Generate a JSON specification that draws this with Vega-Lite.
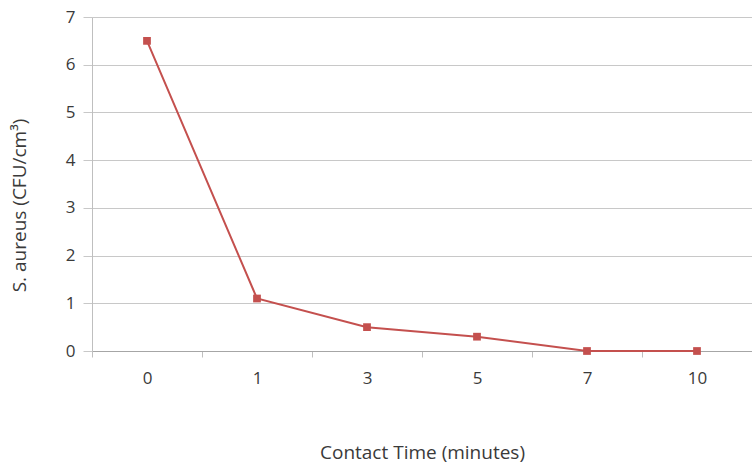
{
  "$schema": "https://vega.github.io/schema/vega-lite/v6.json",
  "width": 660,
  "height": 334,
  "autosize": {"type": "none"},
  "padding": {"left": 92, "top": 17, "right": 0, "bottom": 113},
  "background": "white",
  "data": {
    "values": [
      {"time": "0", "cfu": 6.5},
      {"time": "1", "cfu": 1.1},
      {"time": "3", "cfu": 0.5},
      {"time": "5", "cfu": 0.3},
      {"time": "7", "cfu": 0.0},
      {"time": "10", "cfu": 0.0}
    ]
  },
  "mark": {
    "type": "line",
    "color": "#c4504e",
    "strokeWidth": 2,
    "point": {"shape": "square", "size": 60, "filled": true, "color": "#c4504e", "opacity": 1}
  },
  "encoding": {
    "x": {
      "field": "time",
      "type": "ordinal",
      "sort": null,
      "scale": {"type": "band", "paddingInner": 0, "paddingOuter": 0},
      "axis": {
        "title": "Contact Time (minutes)",
        "labelAngle": 0,
        "tickBand": "extent",
        "grid": false,
        "ticks": true,
        "tickSize": 6,
        "tickColor": "#bfbfbf",
        "domainColor": "#a6a6a6",
        "labelPadding": 13,
        "titleY": 101,
        "titleBaseline": "middle",
        "labelFontSize": 17,
        "titleFontSize": 19
      }
    },
    "y": {
      "field": "cfu",
      "type": "quantitative",
      "scale": {"domain": [0, 7]},
      "axis": {
        "title": "S. aureus (CFU/cm³)",
        "values": [0, 1, 2, 3, 4, 5, 6, 7],
        "grid": true,
        "gridColor": "#c8c8c8",
        "tickColor": "#c8c8c8",
        "tickSize": 9,
        "domainColor": "#bfbfbf",
        "labelPadding": 8,
        "titleX": -73,
        "titleY": 188,
        "titleBaseline": "middle",
        "labelFontSize": 17,
        "titleFontSize": 19
      }
    }
  },
  "config": {
    "font": "Open Sans",
    "view": {"stroke": null},
    "axis": {
      "labelColor": "#3a3a3a",
      "titleColor": "#3a3a3a",
      "titleFontWeight": "normal",
      "labelFont": "Open Sans",
      "titleFont": "Open Sans"
    }
  }
}
